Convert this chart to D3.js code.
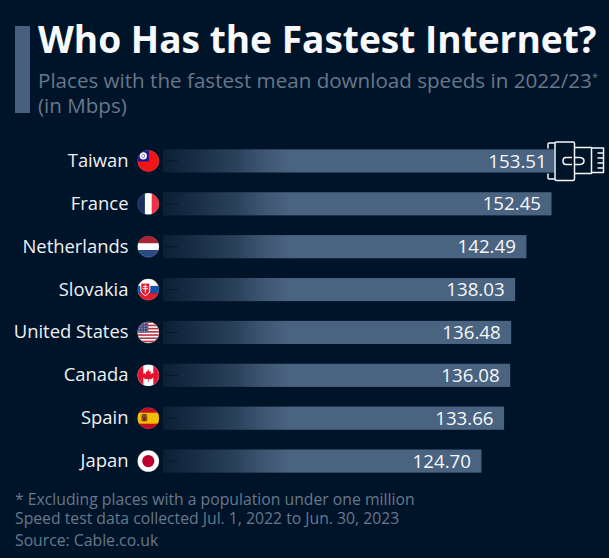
<!DOCTYPE html>
<html><head><meta charset="utf-8">
<script src="https://cdn.jsdelivr.net/npm/d3@7/dist/d3.min.js"></script>
<style>
html,body{margin:0;padding:0;background:#001429;}
svg{display:block;font-family:"Open Sans",sans-serif;}
</style></head><body>
<svg id="c" width="609" height="558"></svg>
<script>
const categories=["Taiwan","France","Netherlands","Slovakia","United States","Canada","Spain","Japan"];
const speeds=[153.51,152.45,142.49,138.03,136.48,136.08,133.66,124.70];
const speedLabels=["153.51","152.45","142.49","138.03","136.48","136.08","133.66","124.70"];
const titleText="Who Has the Fastest Internet?";
const subtitleLines=["Places with the fastest mean download speeds in 2022/23","(in Mbps)"];
const footnotes=["* Excluding places with a population under one million","Speed test data collected Jul. 1, 2022 to Jun. 30, 2023","Source: Cable.co.uk"];

const svg=d3.select("#c");
const defs=svg.append("defs");
svg.append("rect").attr("width",609).attr("height",558).attr("fill","#001429");

const x=d3.scaleLinear().domain([0,160]).range([166.5,570.6]);
const y=d3.scaleBand().domain(categories).range([139.5,482.5]).paddingInner(0.46).paddingOuter(0.23);
const cy=d=>y(d)+y.bandwidth()/2;

const g=defs.append("linearGradient").attr("id","bar").attr("gradientUnits","userSpaceOnUse")
  .attr("x1",163).attr("x2",290).attr("y1",0).attr("y2",0);
g.append("stop").attr("offset","0").attr("stop-color","#4a6380").attr("stop-opacity",0.14);
g.append("stop").attr("offset","0.58").attr("stop-color","#4a6380").attr("stop-opacity",0.58);
g.append("stop").attr("offset","0.8").attr("stop-color","#4a6380").attr("stop-opacity",0.84);
g.append("stop").attr("offset","1").attr("stop-color","#4a6380").attr("stop-opacity",1);

// header
svg.append("rect").attr("x",15).attr("y",26).attr("width",15).attr("height",87).attr("fill","#47607d");
svg.append("text").attr("x",38).attr("y",53).attr("fill","#f8f9fb").attr("font-size",37.1).attr("font-weight",700).text(titleText);
svg.append("text").attr("x",38).attr("y",88).attr("fill","#67788b").attr("font-size",20.6).text(subtitleLines[0])
  .append("tspan").attr("font-size",11).attr("dy",-7).text("*");
svg.append("text").attr("x",38).attr("y",113).attr("fill","#67788b").attr("font-size",20.6).text(subtitleLines[1]);

// bars
const rows=svg.append("g").selectAll("g").data(categories).join("g");
rows.append("rect").attr("x",163).attr("y",d=>y(d)).attr("height",y.bandwidth())
  .attr("width",(d,i)=>x(speeds[i])-163).attr("fill","url(#bar)");
rows.append("line").attr("x1",165).attr("x2",178).attr("y1",d=>cy(d)).attr("y2",d=>cy(d)).attr("stroke","#001429").attr("stroke-width",0.8);
rows.append("text").attr("x",(d,i)=>x(speeds[i])-(i===0?7.5:10.5)).attr("y",d=>cy(d)+6.6).attr("text-anchor","end")
  .attr("fill","#f6f8fa").attr("font-size",18.7).attr("font-weight",500).text((d,i)=>speedLabels[i]);
rows.append("text").attr("x",128.5).attr("y",d=>cy(d)+6).attr("text-anchor","end")
  .attr("fill","#eef1f4").attr("font-size",18.4).text(d=>d);

// flags
const R=10.8, fx=148.3;
const flag=svg.append("g");
function clipFor(name,i){
  const id="f"+i;
  defs.append("clipPath").attr("id",id).append("circle").attr("r",R);
  return flag.append("g").attr("transform",`translate(${fx},${cy(name)})`).append("g").attr("clip-path",`url(#${id})`);
}
function rc(s,x0,y0,w,h,c){return s.append("rect").attr("x",x0).attr("y",y0).attr("width",w).attr("height",h).attr("fill",c);}
categories.forEach((name,i)=>{
  const s=clipFor(name,i);
  if(name==="Taiwan"){
    rc(s,-11,-11,22,22,"#f01414");rc(s,-11,-11,11.5,11.5,"#14149a");
    s.append("circle").attr("cx",-5).attr("cy",-5).attr("r",3.6).attr("fill","#fff");
    s.append("circle").attr("cx",-5).attr("cy",-5).attr("r",1.8).attr("fill","#14149a");
    s.append("circle").attr("cx",-5).attr("cy",-5).attr("r",1.3).attr("fill","#fff");
  } else if(name==="France"){
    rc(s,-11,-11,8,22,"#17305e");rc(s,-3.4,-11,7,22,"#fff");rc(s,3.5,-11,8,22,"#ee3342");
  } else if(name==="Netherlands"){
    rc(s,-11,-11,22,7.6,"#ab2232");rc(s,-11,-3.5,22,7,"#fff");rc(s,-11,3.5,22,8,"#2a4a86");
  } else if(name==="Slovakia"){
    rc(s,-11,-11,22,7.4,"#fff");rc(s,-11,-3.6,22,7.2,"#1555a8");rc(s,-11,3.6,22,8,"#e0202e");
    s.append("path").attr("d","M-7.5,-6.5H1.5V1C1.5,4 -3,6 -3,6C-3,6 -7.5,4 -7.5,1Z").attr("fill","#e0202e").attr("stroke","#fff").attr("stroke-width",1);
    s.append("path").attr("d","M-3,-5V3M-5.2,-3H-0.8M-5.8,-0.8H-0.2").attr("stroke","#fff").attr("stroke-width",1);
  } else if(name==="United States"){
    rc(s,-11,-11,22,22,"#fff");
    d3.range(7).forEach(k=>rc(s,-11,-11+k*3.2,22,1.6,"#b8323f"));
    rc(s,-11,-11,11,11,"#4a4d7e");
    d3.range(4).forEach(a=>d3.range(4).forEach(b=>s.append("circle").attr("cx",-9+a*2.6).attr("cy",-9+b*2.6).attr("r",0.5).attr("fill","#d8d8e6")));
  } else if(name==="Canada"){
    rc(s,-11,-11,22,22,"#fff");rc(s,-11,-11,6,22,"#e8112d");rc(s,5,-11,6,22,"#e8112d");
    s.append("path").attr("d","M0,-6L1.3,-3.4L2.8,-4L2.2,-0.8L4.4,-2.6L4.9,-1.2L6,-1.4L5.4,1.1L6,1.6L2.6,4L0.4,3.7V6.5H-0.4V3.7L-2.6,4L-6,1.6L-5.4,1.1L-6,-1.4L-4.9,-1.2L-4.4,-2.6L-2.2,-0.8L-2.8,-4L-1.3,-3.4Z").attr("fill","#e8112d");
  } else if(name==="Spain"){
    rc(s,-11,-11,22,22,"#c60b1e");rc(s,-11,-5.5,22,11,"#f1bf00");
    rc(s,-7,-3,6,6,"#9c4a1a");
    rc(s,-6,-4.2,4,1.4,"#6b3410");
    rc(s,-5,-1,2,4,"#5a2c0c");
  } else {
    rc(s,-11,-11,22,22,"#fff");
    s.append("circle").attr("r",6.1).attr("fill","#bc002d");
  }
  flag.append("circle").attr("cx",fx).attr("cy",cy(name)).attr("r",R-0.2).attr("fill","none").attr("stroke","#9aa6b5").attr("stroke-opacity",0.45).attr("stroke-width",0.5);
});

// cable icon
const ic=svg.append("g").attr("fill","none").attr("stroke","#f4f6f8").attr("stroke-width",1.5).attr("stroke-linejoin","round");
ic.append("path").attr("d","M555,143H549Q548,143 548,144.5V148.5");
ic.append("path").attr("d","M555,179H549Q548,179 548,177.5V173.5");
ic.append("path").attr("d","M556.5,142H573Q574.5,142 574.5,143.5V179Q574.5,180.5 573,180.5H556.5Q555,180.5 555,179V143.5Q555,142 556.5,142Z").attr("fill","#001429");
ic.append("path").attr("d","M574.5,147.5H591.5V173.5H574.5");
ic.append("path").attr("d","M591.5,148H603.5V172.5H591.5");
ic.append("path").attr("d","M603.5,153H597.5M603.5,158H597.5M603.5,163H597.5M603.5,168H597.5");
ic.append("path").attr("d","M572,157.5H566Q563,157.5 563,161Q563,164.5 566,164.5H572");
ic.append("path").attr("d","M574.5,157.5H580Q584,158 584,161Q584,164 580,164.5H574.5");

// footer
const footY=[505,524,546];
svg.append("g").selectAll("text").data(footnotes).join("text").attr("x",15).attr("y",(d,i)=>footY[i])
  .attr("fill","#67788b").attr("font-size",15.75).text(d=>d);
</script>
</body></html>
